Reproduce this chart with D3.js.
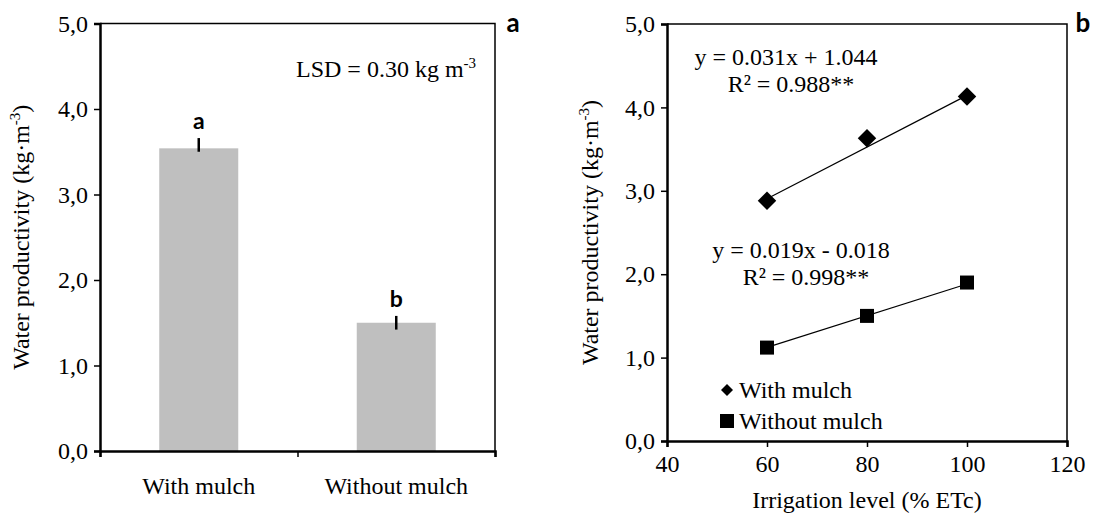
<!DOCTYPE html>
<html>
<head>
<meta charset="utf-8">
<script src="https://cdn.jsdelivr.net/npm/d3@7"></script>
<style>
  body { margin: 0; background: #fff; }
  text { font-family: "Liberation Serif", "Times New Roman", serif; }
</style>
</head>
<body>
<div id="chart"></div>
<script>
// panel a
const treatments = ["With mulch", "Without mulch"];
const wpMeans = [3.54, 1.50];
const errUp = [0.12, 0.08];
const errDown = [0.04, 0.08];
const groupLetters = ["a", "b"];

// panel b
const irrigation = [60, 80, 100];
const wpWithMulch = [2.88, 3.63, 4.13];
const wpWithoutMulch = [1.12, 1.50, 1.90];
const fitSlope = [0.031, 0.019];
const fitIntercept = [1.044, -0.018];
const fitEq = ["y = 0.031x + 1.044", "y = 0.019x - 0.018"];
const fitR2 = ["R² = 0.988**", "R² = 0.998**"];

const yTicks = [0, 1, 2, 3, 4, 5];
const xTicks = [40, 60, 80, 100, 120];

const width = 1093, height = 515;
const fs = 24;
const serif = "'Liberation Serif', 'Times New Roman', serif";
const comma = d => d3.format(".1f")(d).replace(".", ",");

const svg = d3.select("#chart").append("svg")
  .attr("width", width).attr("height", height)
  .attr("font-family", serif);

// ---------- panel a ----------
const a = { left: 100, right: 495, top: 23.5, bottom: 451 };

const xa = d3.scaleBand().domain(treatments).range([a.left, a.right])
  .paddingInner(0.6).paddingOuter(0.3);
const ya = d3.scaleLinear().domain([0, 5]).range([a.bottom, a.top]);

svg.append("g")
  .selectAll("rect")
  .data(treatments)
  .join("rect")
    .attr("x", d => xa(d))
    .attr("y", (d, i) => ya(wpMeans[i]))
    .attr("width", xa.bandwidth())
    .attr("height", (d, i) => ya(0) - ya(wpMeans[i]))
    .attr("fill", "#bfbfbf");

svg.append("g")
  .selectAll("line")
  .data(treatments)
  .join("line")
    .attr("x1", d => xa(d) + xa.bandwidth() / 2)
    .attr("x2", d => xa(d) + xa.bandwidth() / 2)
    .attr("y1", (d, i) => ya(wpMeans[i] + errUp[i]))
    .attr("y2", (d, i) => ya(wpMeans[i] - errDown[i]))
    .attr("stroke", "#000")
    .attr("stroke-width", 2.5);

svg.append("g")
  .selectAll("text")
  .data(treatments)
  .join("text")
    .attr("x", d => xa(d) + xa.bandwidth() / 2)
    .attr("y", (d, i) => ya(wpMeans[i] + errUp[i]) - 9)
    .attr("text-anchor", "middle")
    .style("font-family", "Lato, 'Open Sans', sans-serif")
    .style("font-weight", "bold")
    .style("font-size", "23px")
    .text((d, i) => groupLetters[i]);

// frame
svg.append("path")
  .attr("d", `M${a.left},${a.top}H${a.right}V${a.bottom}`)
  .attr("fill", "none").attr("stroke", "#000").attr("stroke-width", 1.5);

const yAxisA = svg.append("g")
  .attr("transform", `translate(${a.left},0)`)
  .call(d3.axisLeft(ya).tickValues(yTicks).tickFormat(comma).tickSize(6).tickPadding(6));

// category ticks at band edges
const xAxisA = svg.append("g")
  .attr("transform", `translate(0,${a.bottom})`)
  .call(d3.axisBottom(d3.scalePoint().domain([0, 1, 2]).range([a.left, a.right]))
    .tickSize(6).tickFormat(""));

svg.append("g")
  .selectAll("text")
  .data(treatments)
  .join("text")
    .attr("x", d => xa(d) + xa.bandwidth() / 2)
    .attr("y", 494)
    .attr("text-anchor", "middle")
    .style("font-size", fs + "px")
    .text(d => d);

const lsd = svg.append("text")
  .attr("x", 296).attr("y", 77)
  .style("font-size", fs + "px");
lsd.append("tspan").text("LSD = 0.30 kg m");
lsd.append("tspan").attr("dy", -9).style("font-size", "15px").text("-3");

const titleA = svg.append("text")
  .attr("transform", `translate(29,${(a.top + a.bottom) / 2}) rotate(-90)`)
  .attr("text-anchor", "middle")
  .style("font-size", fs + "px");
titleA.append("tspan").text("Water productivity (kg·m");
titleA.append("tspan").attr("dy", -9).style("font-size", "15px").text("-3");
titleA.append("tspan").attr("dy", 9).text(")");

svg.append("text")
  .attr("x", 513).attr("y", 32)
  .attr("text-anchor", "middle")
  .style("font-family", "Lato, 'Open Sans', sans-serif")
  .style("font-weight", "bold")
  .style("font-size", "26px")
  .text("a");

// ---------- panel b ----------
const b = { left: 667, right: 1067, top: 24, bottom: 441 };

const xb = d3.scaleLinear().domain([40, 120]).range([b.left, b.right]);
const yb = d3.scaleLinear().domain([0, 5]).range([b.bottom, b.top]);

svg.append("path")
  .attr("d", `M${b.left},${b.top}H${b.right}V${b.bottom}`)
  .attr("fill", "none").attr("stroke", "#000").attr("stroke-width", 1.5);

const yAxisB = svg.append("g")
  .attr("transform", `translate(${b.left},0)`)
  .call(d3.axisLeft(yb).tickValues(yTicks).tickFormat(comma).tickSize(6).tickPadding(6));

const xAxisB = svg.append("g")
  .attr("transform", `translate(0,${b.bottom})`)
  .call(d3.axisBottom(xb).tickValues(xTicks).tickFormat(d3.format("d")).tickSize(6).tickPadding(8));

[yAxisA, xAxisA, yAxisB, xAxisB].forEach(g => {
  g.attr("font-family", serif);
  g.select(".domain").attr("stroke-width", 2.5);
  g.selectAll(".tick line").attr("stroke-width", 1.5);
  g.selectAll(".tick text")
    .style("font-family", serif)
    .style("font-size", fs + "px")
    .attr("fill", "#000");
});

// trend lines
[wpWithMulch, wpWithoutMulch].forEach((vals, k) => {
  const x0 = d3.min(irrigation), x1 = d3.max(irrigation);
  svg.append("line")
    .attr("x1", xb(x0)).attr("y1", yb(fitSlope[k] * x0 + fitIntercept[k]))
    .attr("x2", xb(x1)).attr("y2", yb(fitSlope[k] * x1 + fitIntercept[k]))
    .attr("stroke", "#000").attr("stroke-width", 1.2);
});

// markers
svg.append("g")
  .selectAll("path")
  .data(irrigation)
  .join("path")
    .attr("transform", (d, i) => `translate(${xb(d)},${yb(wpWithMulch[i])}) rotate(45)`)
    .attr("d", d3.symbol().type(d3.symbolSquare).size(170))
    .attr("fill", "#000");

svg.append("g")
  .selectAll("rect")
  .data(irrigation)
  .join("rect")
    .attr("x", d => xb(d) - 7)
    .attr("y", (d, i) => yb(wpWithoutMulch[i]) - 7)
    .attr("width", 14).attr("height", 14)
    .attr("fill", "#000");

// equations
const eqPos = [{ x: 786, y: 65 }, { x: 801, y: 258 }];
eqPos.forEach((p, k) => {
  svg.append("text")
    .attr("x", p.x).attr("y", p.y)
    .attr("text-anchor", "middle")
    .style("font-size", fs + "px")
    .text(fitEq[k]);
  svg.append("text")
    .attr("x", p.x + 5).attr("y", p.y + 27)
    .attr("text-anchor", "middle")
    .style("font-size", fs + "px")
    .text(fitR2[k]);
});

// legend
const lg = svg.append("g");
lg.append("path")
  .attr("transform", "translate(727,390) rotate(45)")
  .attr("d", d3.symbol().type(d3.symbolSquare).size(72))
  .attr("fill", "#000");
lg.append("rect")
  .attr("x", 720).attr("y", 414).attr("width", 14).attr("height", 14)
  .attr("fill", "#000");
lg.append("text").attr("x", 739).attr("y", 398)
  .style("font-size", fs + "px").text("With mulch");
lg.append("text").attr("x", 739).attr("y", 429)
  .style("font-size", fs + "px").text("Without mulch");

svg.append("text")
  .attr("x", (b.left + b.right) / 2).attr("y", 508)
  .attr("text-anchor", "middle")
  .style("font-size", fs + "px")
  .text("Irrigation level (% ETc)");

const titleB = svg.append("text")
  .attr("transform", `translate(598,${(b.top + b.bottom) / 2}) rotate(-90)`)
  .attr("text-anchor", "middle")
  .style("font-size", fs + "px");
titleB.append("tspan").text("Water productivity (kg·m");
titleB.append("tspan").attr("dy", -9).style("font-size", "15px").text("-3");
titleB.append("tspan").attr("dy", 9).text(")");

svg.append("text")
  .attr("x", 1083).attr("y", 32)
  .attr("text-anchor", "middle")
  .style("font-family", "Lato, 'Open Sans', sans-serif")
  .style("font-weight", "bold")
  .style("font-size", "26px")
  .text("b");
</script>
</body>
</html>
